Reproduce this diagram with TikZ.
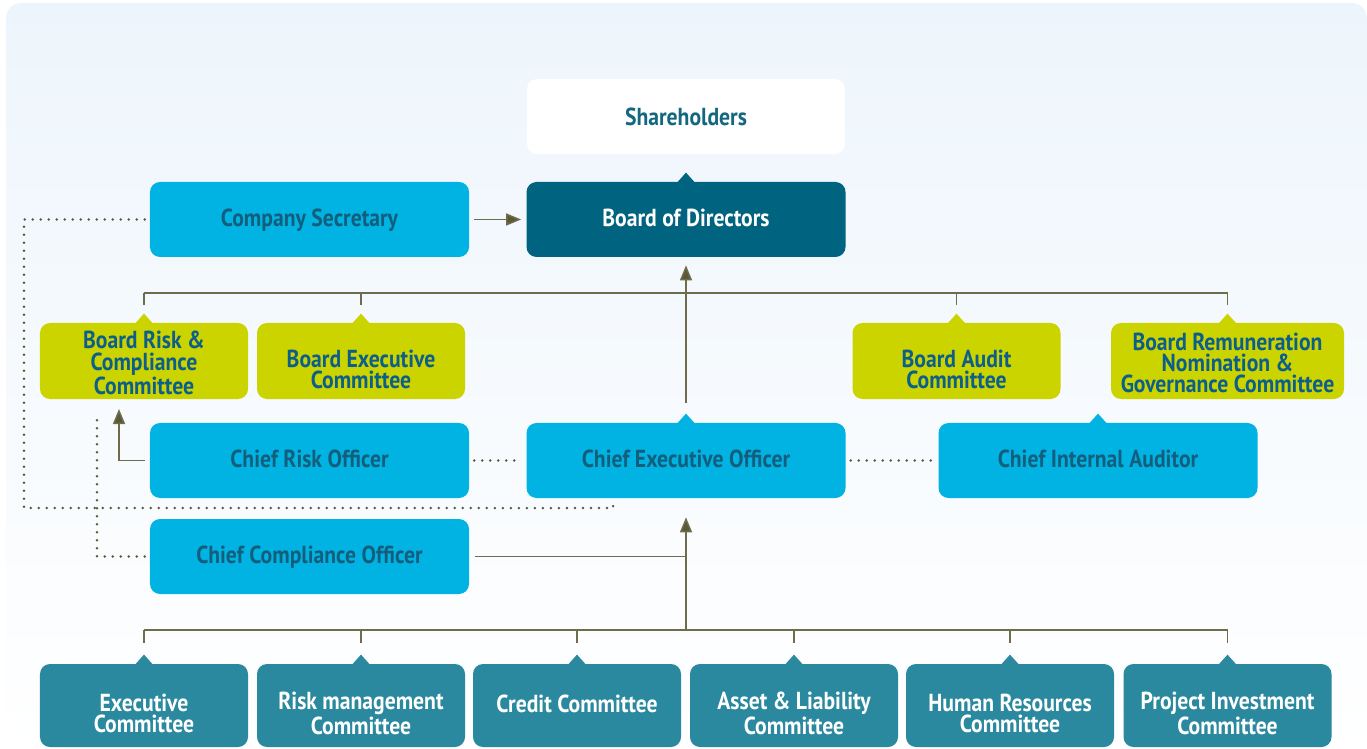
\documentclass[tikz,border=0pt]{standalone}
\usepackage{fontspec}
\setmainfont{PT Sans}[FakeStretch=0.88]
\usetikzlibrary{arrows.meta,calc}

\definecolor{bgtop}{HTML}{EDF5FC}
\definecolor{cyanfill}{HTML}{00B3E3}
\definecolor{cyantext}{HTML}{135E7C}
\definecolor{dirfill}{HTML}{00637F}
\definecolor{boardfill}{HTML}{CCD400}
\definecolor{boardtext}{HTML}{0B5F8A}
\definecolor{comfill}{HTML}{2A889F}
\definecolor{sharetext}{HTML}{13677F}
\definecolor{linecol}{HTML}{6F6C4C}
\definecolor{dotcol}{HTML}{5A5836}

\begin{document}
\begin{tikzpicture}
      [x = 0.2mm, y = -0.2mm,
      box/.style= {
         rounded corners = 2mm,
         inner sep = 0pt
      },
      txt/.style= {
         align = center,
         inner sep = 0pt,
         font = \bfseries\fontsize{14}{12}\selectfont
      },
      one/.style= {txt, text depth = 0pt, yshift = 0.4mm},
      two/.style= {txt, yshift = -1.6mm},
      three/.style= {txt, yshift = -0.4mm},
      officer/.style= {
         box,
         fill = cyanfill,
         minimum width = 63.8mm,
         minimum height = 15mm
      },
      board/.style= {
         box,
         fill = boardfill,
         minimum width = 41.6mm,
         minimum height = 15.2mm
      },
      committee/.style= {
         box,
         fill = comfill,
         minimum width = 41.6mm,
         minimum height = 16.6mm
      },
      link/.style= {draw = linecol, line width = 0.3mm},
      arr/.style= {link, -{Triangle[length = 3mm, width = 2.4mm, fill = dotcol]}},
      dots/.style= {
         draw = dotcol,
         line width = 0.55mm,
         line cap = round,
         dash pattern = on 0pt off 1.6mm
      }]

      \useasboundingbox (0, 0) rectangle (1367, 749);
      \shade[top color = bgtop, bottom color = white, rounded corners = 3mm]
         (6, 3) rectangle (1367, 749);

      % top of the chart
      \node[box, fill = white, minimum width = 63.6mm, minimum height = 15mm,
         label = {[txt, text = sharetext]center:Shareholders}] (sh) at (686, 116.5) {};
      \node[officer, fill = dirfill,
         label = {[one, text = white]center:Board of Directors}] (bod) at (686, 219.5) {};
      \node[officer, label = {[one, text = cyantext]center:Company Secretary}]
         (cs) at (309.5, 219.5) {};

      % board committees
      \node[board, label = {[three, text = boardtext]center:Board Risk \&\\Compliance\\Committee}]
         (brc) at (144, 361) {};
      \node[board, label = {[two, text = boardtext]center:Board Executive\\Committee}]
         (bex) at (361, 361) {};
      \node[board, label = {[two, text = boardtext]center:Board Audit\\Committee}]
         (bac) at (956.5, 361) {};
      \node[board, minimum width = 46.6mm,
         label = {[three, text = boardtext]center:Board Remuneration\\Nomination \&\\Governance Committee}]
         (brem) at (1227.5, 361) {};

      % officers
      \node[officer, label = {[one, text = cyantext]center:Chief Risk Officer}]
         (cro) at (309.5, 460.5) {};
      \node[officer, label = {[one, text = cyantext]center:Chief Executive Officer}]
         (ceo) at (686, 460.5) {};
      \node[officer, label = {[one, text = cyantext]center:Chief Internal Auditor}]
         (cia) at (1098, 460.5) {};
      \node[officer, label = {[one, text = cyantext]center:Chief Compliance Officer}]
         (cco) at (309.5, 556.5) {};

      % management committees
      \node[committee, label = {[two, text = white]center:Executive\\Committee}]
         (ec) at (144, 705.5) {};
      \node[committee, label = {[two, text = white]center:Risk management\\Committee}]
         (rmc) at (361, 705.5) {};
      \node[committee, label = {[one, text = white]center:Credit Committee}]
         (cc) at (577, 705.5) {};
      \node[committee, label = {[two, text = white]center:Asset \& Liability\\Committee}]
         (alc) at (794, 705.5) {};
      \node[committee, label = {[two, text = white]center:Human Resources\\Committee}]
         (hrc) at (1010, 705.5) {};
      \node[committee, label = {[two, text = white]center:Project Investment\\Committee}]
         (pic) at (1227.5, 705.5) {};

      % little pointers on top of the boxes
      \foreach \n/\c in {bod/dirfill, brc/boardfill, bex/boardfill, bac/boardfill,
            brem/boardfill, ceo/cyanfill, cia/cyanfill, ec/comfill, rmc/comfill,
            cc/comfill, alc/comfill, hrc/comfill, pic/comfill}
         \fill[\c] ($(\n.north) + (-9, 1)$) -- ($(\n.north) + (0, -9)$)
            -- ($(\n.north) + (9, 1)$) -- cycle;

      \coordinate (busu) at (686, 293);
      \coordinate (busl) at (686, 630);
      \coordinate (riskup) at (119, 409);
      \coordinate (compup) at (97, 413);
      \coordinate (secleft) at (24, 508);
      \coordinate (ceolink) at (613, 500);

      \draw[arr] ([xshift = 1mm]cs.east) -- ([xshift = -1mm]bod.west);
      \draw[arr] ([yshift = 4mm]ceo.north) -- ([yshift = -1.6mm]bod.south);

      \draw[link] (brc.north |- busu) -- (brem.north |- busu);
      \foreach \n in {brc, bex, bac, brem}
         \draw[link] (\n.north |- busu) -- ([yshift = 3.6mm]\n.north);

      \draw[link] (ec.north |- busl) -- (pic.north |- busl);
      \foreach \n in {ec, rmc, cc, alc, hrc, pic}
         \draw[link] (\n.north |- busl) -- ([yshift = 4.2mm]\n.north);
      \draw[arr] (busl) -- ([yshift = -3.8mm]ceo.south);
      \draw[link] ([xshift = 1.2mm]cco.east) -- (cco.east -| busl);

      \draw[arr] ([xshift = -1mm]cro.west) -| (riskup);
      \draw[dots] ([xshift = 1mm]cro.east) -- ([xshift = -1mm]ceo.west);
      \draw[dots] ([xshift = 1mm]ceo.east) -- ([xshift = -1mm]cia.west);
      \draw[dots] ([xshift = -1mm]cco.west) -| (compup);
      \draw[dots] ([xshift = -1mm]cs.west) -| (secleft) -| (ceolink);

   \end{tikzpicture}
\end{document}
